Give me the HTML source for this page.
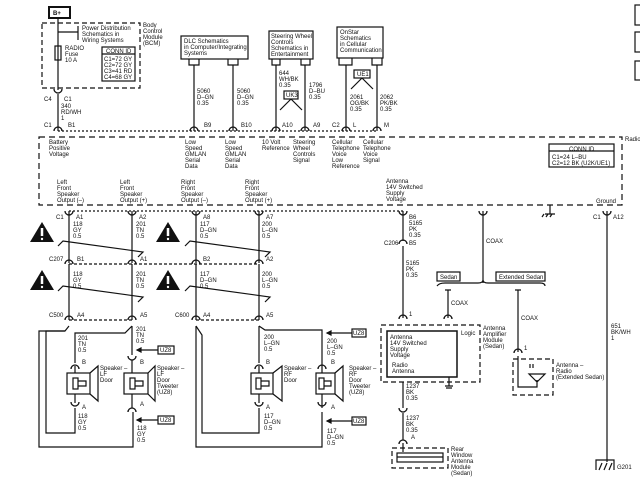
<!DOCTYPE html>
<html><head><meta charset="utf-8"><style>
html,body{margin:0;padding:0;background:#fff;}
svg{display:block;}
text{font-family:"Liberation Sans",sans-serif;font-size:6px;fill:#111;}
</style></head><body>
<svg width="640" height="480" viewBox="0 0 640 480" xmlns="http://www.w3.org/2000/svg">
<defs>
<g id="cn"><path d="M-4 3 A4 4 0 0 1 4 3" fill="none" stroke="#111" stroke-width="1.3"/></g>
<g id="cu"><path d="M-4 -3 A4 4 0 0 0 4 -3" fill="none" stroke="#111" stroke-width="1.3"/></g>
<g id="warn"><path d="M0 0 L12 20 L-12 20 Z" fill="#111"/><path d="M0 6 L0 14" stroke="#fff" stroke-width="2.5"/><circle cx="0" cy="17" r="1.2" fill="#fff"/></g>
</defs>
<g stroke="#111" fill="none" stroke-width="1.2">
<!-- B+ -->
<rect x="49" y="7" width="21" height="11" stroke-width="2"/>
<rect x="42" y="23" width="98" height="65" stroke-dasharray="5,3"/>
<path d="M58 18 V90 M58 94 V131"/>
<rect x="55" y="46" width="6" height="14"/>
<path d="M58 32 H78 M78 26 V40"/>
<rect x="102" y="47" width="33" height="34"/><path d="M102 54 H135"/>
<!-- DLC -->
<rect x="181" y="36" width="67" height="23"/>
<path d="M189 59 V65 H199 V59 M228 59 V65 H238 V59 M194 65 V131 M233 65 V131"/>
<!-- Steering -->
<rect x="269" y="31" width="44" height="28"/>
<path d="M272 59 V65 H280 V59 M301 59 V65 H310 V59 M276 65 V131 M305 65 V131"/>
<rect x="284" y="91" width="14" height="8"/>
<path d="M291 99 L280 110 M291 99 L302 110"/>
<!-- OnStar -->
<rect x="337" y="27" width="46" height="31"/>
<path d="M339 58 V65 H352 V58 M372 58 V65 H382 V58 M346 65 V131 M377 65 V131"/>
<rect x="354" y="70" width="16" height="8"/>
<path d="M362 78 L351 89 M362 78 L373 89"/>
<!-- dotted connector row -->
<path d="M58 131 H377" stroke-dasharray="2,2"/>
<!-- radio box -->
<rect x="39" y="137" width="583" height="68" stroke-dasharray="6,4"/>
<rect x="549" y="144" width="65" height="23"/><path d="M549 151 H614"/>
<!-- right edge cut boxes -->
<rect x="635" y="5" width="10" height="20"/><rect x="635" y="32" width="10" height="20"/><rect x="635" y="61" width="10" height="19"/>
<!-- lower row -->
<path d="M69 211 H403" stroke-dasharray="2,2"/>
<path d="M69 211 V263 M132 211 V263 M196 211 V263 M259 211 V263"/>
<path d="M69 264 H259" stroke-dasharray="3,2"/>
<path d="M69 264 V320 M132 264 V320 M196 264 V320 M259 264 V320"/>
<path d="M69 320 H132 M196 320 H259" stroke-dasharray="3,2"/>
<!-- break lines -->
<path d="M58 246 L63 241 L143 252 L138 257"/>
<path d="M185 246 L190 241 L270 252 L265 257"/>
<path d="M58 291 L63 286 L143 297 L138 302"/>
<path d="M185 291 L190 286 L270 297 L265 302"/>
<!-- left speakers wiring -->
<path d="M69 326 L65 331 H39 V447 H133 V412"/>
<path d="M65 331 H46 V433 H75 V408"/>
<path d="M132 326 L125 333 H75 V363"/>
<path d="M132 326 V355 M132 360 V373 M132 394 V408"/>
<path d="M75 366 V373 M75 394 V403"/>
<rect x="67" y="373" width="23" height="21"/><path d="M90 373 L98 366 V401 L90 394"/>
<rect x="73" y="378" width="5" height="11"/><path d="M78 381 H86 V386 H78"/>
<rect x="124" y="373" width="24" height="21"/><path d="M148 373 L155 366 V401 L148 394"/>
<rect x="130" y="378" width="5" height="11"/><path d="M135 381 H143 V386 H135"/>
<rect x="158" y="346" width="16" height="8"/><path d="M158 350 H137"/><path d="M137 350 L141 348 V352 Z" fill="#111"/>
<rect x="158" y="416" width="16" height="8"/><path d="M158 420 H137"/><path d="M137 420 L141 418 V422 Z" fill="#111"/>
<!-- right speakers wiring -->
<path d="M196 326 L202 335 V433 H259 V408"/>
<path d="M196 326 V447 H322 V412"/>
<path d="M259 326 L265 330 H322 V373 M322 394 V408"/>
<path d="M259 326 V363 M259 366 V373 M259 394 V403"/>
<rect x="251" y="373" width="22" height="21"/><path d="M273 373 L282 366 V401 L273 394"/>
<rect x="256" y="378" width="5" height="11"/><path d="M261 381 H269 V386 H261"/>
<rect x="316" y="373" width="19" height="21"/><path d="M335 373 L343 366 V401 L335 394"/>
<rect x="319" y="378" width="5" height="11"/><path d="M324 381 H331 V386 H324"/>
<rect x="352" y="329" width="14" height="8"/><path d="M352 333 H327"/><path d="M327 333 L331 331 V335 Z" fill="#111"/>
<rect x="352" y="417" width="14" height="8"/><path d="M352 421 H327"/><path d="M327 421 L331 419 V423 Z" fill="#111"/>
<!-- antenna column -->
<path d="M403 211 V241 M403 246 V318 M403 382 V408 M403 413 V440 M403 443 V452"/>
<rect x="381" y="325" width="99" height="57" stroke-dasharray="5,3"/>
<rect x="387" y="331" width="70" height="46" stroke-width="1.5"/>
<path d="M449 377 V386 M445 386 H453 M446 388 H452"/>
<path d="M448 318 V290 M445 290 H451"/>
<path d="M483 211 V283"/>
<path d="M437 286 Q439 283 445 283 H478 Q483 283 483 280 Q483 283 488 283 H540 Q545 283 545 286"/>
<rect x="437" y="272" width="23" height="9"/><rect x="496" y="272" width="49" height="9"/>
<path d="M518 290 V352 M515 290 H521"/>
<rect x="513" y="359" width="40" height="36" stroke-dasharray="5,3"/>
<path d="M518 356 V387 H537 V380 M529 374 H545 L537 382 Z M530 368 V364 M533 368 V364"/>
<rect x="392" y="448" width="56" height="20" stroke-dasharray="5,3"/>
<rect x="397" y="453" width="46" height="9"/><path d="M397 457 H443"/>
<!-- ground -->
<path d="M550 205 V214 M545 214 H555 M544 214 L542 217 M548 214 L546 217 M552 214 L550 217"/>
<path d="M607 211 V462"/>
<path d="M596 470 V460 H614 V470 M599 470 L602 463 M604 470 L607 463 M609 470 L612 463"/>
</g>
<!-- connectors -->
<use href="#cu" x="58" y="92"/>
<use href="#cn" x="58" y="128"/><use href="#cn" x="194" y="128"/><use href="#cn" x="233" y="128"/><use href="#cn" x="276" y="128"/><use href="#cn" x="305" y="128"/><use href="#cn" x="346" y="128"/><use href="#cn" x="377" y="128"/>
<use href="#cu" x="69" y="214"/><use href="#cu" x="132" y="214"/><use href="#cu" x="196" y="214"/><use href="#cu" x="259" y="214"/><use href="#cu" x="403" y="214"/><use href="#cu" x="483" y="214"/><use href="#cu" x="607" y="214"/>
<use href="#cn" x="69" y="261"/><use href="#cn" x="132" y="261"/><use href="#cn" x="196" y="261"/><use href="#cn" x="259" y="261"/>
<use href="#cn" x="69" y="317"/><use href="#cn" x="132" y="317"/><use href="#cn" x="196" y="317"/><use href="#cn" x="259" y="317"/>
<use href="#cn" x="403" y="241"/><use href="#cn" x="403" y="316"/><use href="#cn" x="448" y="316"/><use href="#cn" x="518" y="350"/>
<use href="#cu" x="132" y="359"/><use href="#cn" x="75" y="366"/><use href="#cu" x="75" y="405"/><use href="#cn" x="132" y="409"/>
<use href="#cn" x="259" y="366"/><use href="#cu" x="259" y="405"/><use href="#cn" x="322" y="366"/><use href="#cu" x="322" y="405"/>
<use href="#cu" x="403" y="411"/><use href="#cn" x="403" y="441"/>
<use href="#warn" x="42" y="222"/><use href="#warn" x="42" y="270"/><use href="#warn" x="168" y="222"/><use href="#warn" x="168" y="270"/>
<!-- text -->
<text x="53" y="15" style="font-size:6px;font-weight:bold">B+</text>
<text x="82" y="30">Power Distribution</text><text x="82" y="36">Schematics in</text><text x="82" y="42">Wiring Systems</text>
<text x="143" y="27">Body</text><text x="143" y="33">Control</text><text x="143" y="39">Module</text><text x="143" y="45">(BCM)</text>
<text x="65" y="50">RADIO</text><text x="65" y="56">Fuse</text><text x="65" y="62">10 A</text>
<text x="106" y="53">CONN ID</text><text x="104" y="61">C1=72 GY</text><text x="104" y="67">C2=72 GY</text><text x="104" y="73">C3=41 RD</text><text x="104" y="79">C4=68 GY</text>
<text x="44" y="101">C4</text><text x="64" y="101">C1</text><text x="61" y="108">340</text><text x="61" y="114">RD/WH</text><text x="61" y="120">1</text>
<text x="184" y="43">DLC Schematics</text><text x="184" y="49">in Computer/Integrating</text><text x="184" y="55">Systems</text>
<text x="197" y="93">5060</text><text x="197" y="99">D–GN</text><text x="197" y="105">0.35</text>
<text x="237" y="93">5060</text><text x="237" y="99">D–GN</text><text x="237" y="105">0.35</text>
<text x="271" y="38">Steering Wheel</text><text x="271" y="44">Controls</text><text x="271" y="50">Schematics in</text><text x="271" y="56">Entertainment</text>
<text x="279" y="75">644</text><text x="279" y="81">WH/BK</text><text x="279" y="87">0.35</text>
<text x="309" y="87">1796</text><text x="309" y="93">D–BU</text><text x="309" y="99">0.35</text>
<text x="286" y="97">UK3</text>
<text x="340" y="34">OnStar</text><text x="340" y="40">Schematics</text><text x="340" y="46">in Cellular</text><text x="340" y="52">Communication</text>
<text x="357" y="76">UE1</text>
<text x="350" y="99">2061</text><text x="350" y="105">OG/BK</text><text x="350" y="111">0.35</text>
<text x="380" y="99">2062</text><text x="380" y="105">PK/BK</text><text x="380" y="111">0.35</text>
<text x="44" y="127">C1</text><text x="68" y="127">B1</text><text x="204" y="127">B9</text><text x="241" y="127">B10</text><text x="282" y="127">A10</text><text x="313" y="127">A9</text><text x="332" y="127">C2</text><text x="353" y="127">L</text><text x="384" y="127">M</text>
<text x="625" y="141">Radio</text>
<text x="49" y="144">Battery</text><text x="49" y="150">Positive</text><text x="49" y="156">Voltage</text>
<text x="185" y="144">Low</text><text x="185" y="150">Speed</text><text x="185" y="156">GMLAN</text><text x="185" y="162">Serial</text><text x="185" y="168">Data</text>
<text x="225" y="144">Low</text><text x="225" y="150">Speed</text><text x="225" y="156">GMLAN</text><text x="225" y="162">Serial</text><text x="225" y="168">Data</text>
<text x="262" y="144">10 Volt</text><text x="262" y="150">Reference</text>
<text x="293" y="144">Steering</text><text x="293" y="150">Wheel</text><text x="293" y="156">Controls</text><text x="293" y="162">Signal</text>
<text x="332" y="144">Cellular</text><text x="332" y="150">Telephone</text><text x="332" y="156">Voice</text><text x="332" y="162">Low</text><text x="332" y="168">Reference</text>
<text x="363" y="144">Cellular</text><text x="363" y="150">Telephone</text><text x="363" y="156">Voice</text><text x="363" y="162">Signal</text>
<text x="569" y="151">CONN ID</text><text x="552" y="159">C1=24 L–BU</text><text x="552" y="165">C2=12 BK (U2K/UE1)</text>
<text x="57" y="184">Left</text><text x="57" y="190">Front</text><text x="57" y="196">Speaker</text><text x="57" y="202">Output (–)</text>
<text x="120" y="184">Left</text><text x="120" y="190">Front</text><text x="120" y="196">Speaker</text><text x="120" y="202">Output (+)</text>
<text x="181" y="184">Right</text><text x="181" y="190">Front</text><text x="181" y="196">Speaker</text><text x="181" y="202">Output (–)</text>
<text x="245" y="184">Right</text><text x="245" y="190">Front</text><text x="245" y="196">Speaker</text><text x="245" y="202">Output (+)</text>
<text x="386" y="183">Antenna</text><text x="386" y="189">14V Switched</text><text x="386" y="195">Supply</text><text x="386" y="201">Voltage</text>
<text x="596" y="203">Ground</text>
<text x="56" y="219">C1</text><text x="76" y="219">A1</text><text x="139" y="219">A2</text><text x="203" y="219">A8</text><text x="266" y="219">A7</text>
<text x="409" y="219">B6</text><text x="593" y="219">C1</text><text x="613" y="219">A12</text>
<text x="73" y="226">118</text><text x="73" y="232">GY</text><text x="73" y="238">0.5</text>
<text x="136" y="226">201</text><text x="136" y="232">TN</text><text x="136" y="238">0.5</text>
<text x="200" y="226">117</text><text x="200" y="232">D–GN</text><text x="200" y="238">0.5</text>
<text x="262" y="226">200</text><text x="262" y="232">L–GN</text><text x="262" y="238">0.5</text>
<text x="409" y="225">5165</text><text x="409" y="231">PK</text><text x="409" y="237">0.35</text>
<text x="384" y="245">C206</text><text x="409" y="245">B5</text>
<text x="486" y="243">COAX</text>
<text x="49" y="261">C207</text><text x="77" y="261">B1</text><text x="140" y="261">A1</text><text x="203" y="261">B2</text><text x="266" y="261">A2</text>
<text x="73" y="276">118</text><text x="73" y="282">GY</text><text x="73" y="288">0.5</text>
<text x="136" y="276">201</text><text x="136" y="282">TN</text><text x="136" y="288">0.5</text>
<text x="200" y="276">117</text><text x="200" y="282">D–GN</text><text x="200" y="288">0.5</text>
<text x="262" y="276">200</text><text x="262" y="282">L–GN</text><text x="262" y="288">0.5</text>
<text x="406" y="265">5165</text><text x="406" y="271">PK</text><text x="406" y="277">0.35</text>
<text x="440" y="279">Sedan</text><text x="499" y="279">Extended Sedan</text>
<text x="451" y="305">COAX</text><text x="521" y="320">COAX</text>
<text x="49" y="317">C500</text><text x="77" y="317">A4</text><text x="140" y="317">A5</text>
<text x="175" y="317">C600</text><text x="203" y="317">A4</text><text x="266" y="317">A5</text>
<text x="409" y="316">1</text><text x="524" y="350">1</text>
<text x="611" y="328">651</text><text x="611" y="334">BK/WH</text><text x="611" y="340">1</text>
<text x="136" y="331">201</text><text x="136" y="337">TN</text><text x="136" y="343">0.5</text>
<text x="78" y="340">201</text><text x="78" y="346">TN</text><text x="78" y="352">0.5</text>
<text x="264" y="339">200</text><text x="264" y="345">L–GN</text><text x="264" y="351">0.5</text>
<text x="327" y="343">200</text><text x="327" y="349">L–GN</text><text x="327" y="355">0.5</text>
<text x="160" y="352">UZ8</text><text x="160" y="422">UZ8</text><text x="353" y="335">UZ8</text><text x="353" y="423">UZ8</text>
<text x="461" y="335">Logic</text>
<text x="483" y="330">Antenna</text><text x="483" y="336">Amplifier</text><text x="483" y="342">Module</text><text x="483" y="348">(Sedan)</text>
<text x="390" y="339">Antenna</text><text x="390" y="345">14V Switched</text><text x="390" y="351">Supply</text><text x="390" y="357">Voltage</text>
<text x="392" y="367">Radio</text><text x="392" y="373">Antenna</text>
<text x="82" y="364">B</text><text x="140" y="364">B</text><text x="266" y="364">B</text><text x="331" y="364">B</text>
<text x="100" y="370">Speaker –</text><text x="100" y="376">LF</text><text x="100" y="382">Door</text>
<text x="157" y="370">Speaker –</text><text x="157" y="376">LF</text><text x="157" y="382">Door</text><text x="157" y="388">Tweeter</text><text x="157" y="394">(UZ8)</text>
<text x="284" y="370">Speaker –</text><text x="284" y="376">RF</text><text x="284" y="382">Door</text>
<text x="349" y="370">Speaker –</text><text x="349" y="376">RF</text><text x="349" y="382">Door</text><text x="349" y="388">Tweeter</text><text x="349" y="394">(UZ8)</text>
<text x="556" y="367">Antenna –</text><text x="556" y="373">Radio</text><text x="556" y="379">(Extended Sedan)</text>
<text x="406" y="388">1237</text><text x="406" y="394">BK</text><text x="406" y="400">0.35</text>
<text x="82" y="409">A</text><text x="140" y="406">A</text><text x="266" y="409">A</text><text x="331" y="409">A</text>
<text x="406" y="420">1237</text><text x="406" y="426">BK</text><text x="406" y="432">0.35</text><text x="411" y="439">A</text>
<text x="78" y="418">118</text><text x="78" y="424">GY</text><text x="78" y="430">0.5</text>
<text x="264" y="418">117</text><text x="264" y="424">D–GN</text><text x="264" y="430">0.5</text>
<text x="137" y="430">118</text><text x="137" y="436">GY</text><text x="137" y="442">0.5</text>
<text x="327" y="433">117</text><text x="327" y="439">D–GN</text><text x="327" y="445">0.5</text>
<text x="451" y="451">Rear</text><text x="451" y="457">Window</text><text x="451" y="463">Antenna</text><text x="451" y="469">Module</text><text x="451" y="475">(Sedan)</text>
<text x="617" y="469">G201</text>
</svg>
</body></html>
